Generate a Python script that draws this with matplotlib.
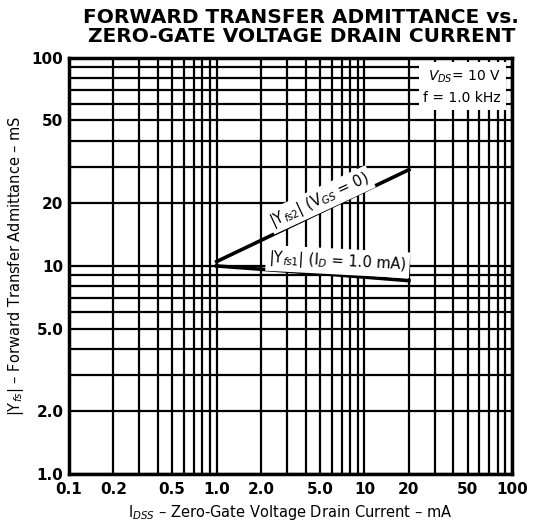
import numpy as np
import matplotlib.pyplot as plt
from matplotlib.ticker import FixedLocator, NullFormatter

# curves
yfs2_idss = [1.0, 20.0]
yfs2_val = [10.5, 29.0]
yfs1_idss = [1.0, 5.0, 20.0]
yfs1_val = [10.0, 9.2, 8.5]

xticks = [0.1, 0.2, 0.5, 1.0, 2.0, 5.0, 10, 20, 50, 100]
xticklabels = ['0.1', '0.2', '0.5', '1.0', '2.0', '5.0', '10', '20', '50', '100']
yticks = [1.0, 2.0, 5.0, 10, 20, 50, 100]
yticklabels = ['1.0', '2.0', '5.0', '10', '20', '50', '100']

plt.rcParams['font.family'] = ['DejaVu Sans']
plt.rcParams['mathtext.fontset'] = 'dejavusans'

fig = plt.figure(figsize=(5.38, 5.21), dpi=100)
ax = fig.add_axes([0.128, 0.090, 0.824, 0.799])
ax.set_xscale('log')
ax.set_yscale('log')
ax.set_xlim(0.1, 100)
ax.set_ylim(1.0, 100)

# full grid at every 1..9 multiple
grid_x = [m * 10.0**d for d in range(-1, 2) for m in range(1, 10)] + [100]
grid_y = [m * 10.0**d for d in range(0, 2) for m in range(1, 10)] + [100]
for gx in grid_x:
    ax.axvline(gx, color='black', lw=1.6, zorder=1)
for gy in grid_y:
    ax.axhline(gy, color='black', lw=1.6, zorder=1)

ax.plot(yfs2_idss, yfs2_val, color='black', lw=2.6, zorder=4)
ax.plot(yfs1_idss, yfs1_val, color='black', lw=2.6, zorder=4)

ax.xaxis.set_major_locator(FixedLocator(xticks))
ax.set_xticklabels(xticklabels)
ax.xaxis.set_minor_formatter(NullFormatter())
ax.yaxis.set_major_locator(FixedLocator(yticks))
ax.set_yticklabels(yticklabels)
ax.yaxis.set_minor_formatter(NullFormatter())
ax.tick_params(which='both', length=0, labelsize=11)
ax.tick_params(axis='x', pad=6)
ax.tick_params(axis='y', pad=4)
for lab in ax.get_xticklabels() + ax.get_yticklabels():
    lab.set_fontweight('bold')
for lab in ax.get_yticklabels():
    lab.set_verticalalignment('center_baseline')

for sp in ax.spines.values():
    sp.set_linewidth(2.5)
    sp.set_zorder(5)

# condition box
ax.text(0.975, 0.975, '$V_{DS}$= 10 V\nf = 1.0 kHz', transform=ax.transAxes,
        ha='right', va='top', fontsize=10, linespacing=1.6, zorder=6,
        bbox=dict(boxstyle='square,pad=0.35', fc='white', ec='none'))

ax.text(5.0, 20.8, '|Y$_{fs2}$| (V$_{GS}$ = 0)', rotation=25, fontsize=10.5,
        ha='center', va='center', zorder=6,
        bbox=dict(boxstyle='square,pad=0.15', fc='white', ec='none'))
ax.text(6.6, 10.5, '|Y$_{fs1}$| (I$_{D}$ = 1.0 mA)', rotation=-3, fontsize=10.5,
        ha='center', va='center', zorder=6,
        bbox=dict(boxstyle='square,pad=0.2', fc='white', ec='none'))

ax.set_xlabel('I$_{DSS}$ – Zero-Gate Voltage Drain Current – mA', fontsize=10.5, labelpad=4)
ax.set_ylabel('|Y$_{fs}$| – Forward Transfer Admittance – mS', fontsize=10.5, labelpad=4)

fig.text(0.56, 0.985, 'FORWARD TRANSFER ADMITTANCE vs.\nZERO-GATE VOLTAGE DRAIN CURRENT',
         ha='center', va='top', fontsize=14.5, fontweight='bold', linespacing=1.0)

fig.savefig('out.png', dpi=100)
